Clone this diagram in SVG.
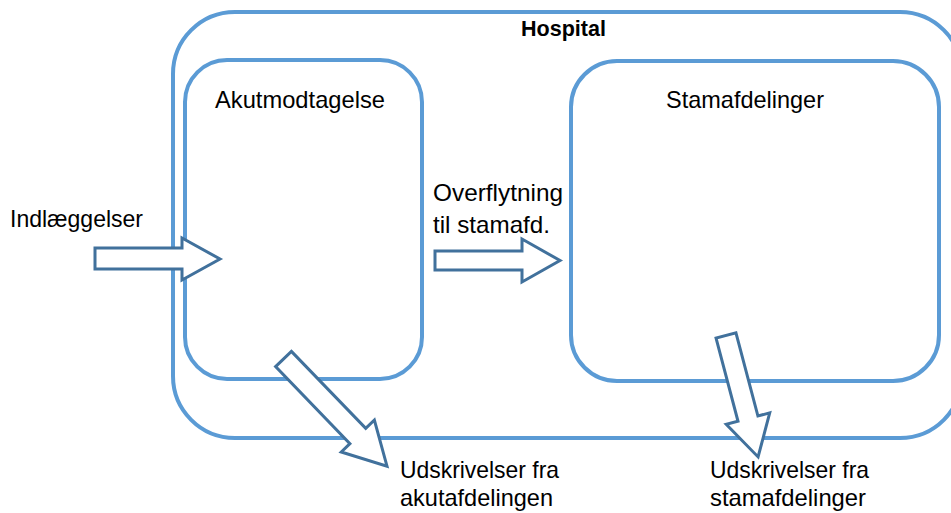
<svg xmlns="http://www.w3.org/2000/svg" width="951" height="513" viewBox="0 0 951 513">
  <style>
    .box { fill: none; stroke: #5B9BD5; stroke-width: 4; }
    .arrow { fill: #FFFFFF; stroke: #41719C; stroke-width: 3; stroke-linejoin: miter; }
    .lbl { font-family: "Liberation Sans", Arial, sans-serif; font-size: 24px; fill: #000000; }
    .title { font-family: "Liberation Sans", Arial, sans-serif; font-size: 22px; font-weight: bold; fill: #000000; }
  </style>
  <rect width="951" height="513" fill="#FFFFFF"/>

  <!-- Hospital container -->
  <g id="hospital">
    <rect class="box" x="173" y="12" width="789" height="426" rx="62" ry="62"/>
    <text class="title" x="521" y="36" textLength="85" lengthAdjust="spacingAndGlyphs">Hospital</text>
  </g>

  <!-- Emergency reception -->
  <g id="akutmodtagelse">
    <rect class="box" x="185" y="60" width="237" height="319" rx="42" ry="42"/>
    <text class="lbl" x="215" y="108" textLength="170" lengthAdjust="spacingAndGlyphs">Akutmodtagelse</text>
  </g>

  <!-- Regular wards -->
  <g id="stamafdelinger">
    <rect class="box" x="571" y="61" width="368" height="320" rx="46" ry="46"/>
    <text class="lbl" x="666" y="108" textLength="158" lengthAdjust="spacingAndGlyphs">Stamafdelinger</text>
  </g>

  <!-- Flow labels -->
  <g id="labels">
    <text class="lbl" x="10" y="227" textLength="133" lengthAdjust="spacingAndGlyphs">Indlæggelser</text>
    <text class="lbl" x="433" y="201" textLength="130" lengthAdjust="spacingAndGlyphs">Overflytning</text>
    <text class="lbl" x="433" y="233" textLength="117" lengthAdjust="spacingAndGlyphs">til stamafd.</text>
    <text class="lbl" x="400" y="478" textLength="159" lengthAdjust="spacingAndGlyphs">Udskrivelser fra</text>
    <text class="lbl" x="400" y="506" textLength="153" lengthAdjust="spacingAndGlyphs">akutafdelingen</text>
    <text class="lbl" x="710" y="478" textLength="159" lengthAdjust="spacingAndGlyphs">Udskrivelser fra</text>
    <text class="lbl" x="710" y="506" textLength="156" lengthAdjust="spacingAndGlyphs">stamafdelinger</text>
  </g>

  <!-- Block arrows for patient flow -->
  <g id="connectors">
    <polygon class="arrow" points="95,248 182,248 182,238 220,259 182,280 182,269 95,269"/>
    <polygon class="arrow" points="435,251 522,251 522,239 560,260.5 522,282 522,270 435,270"/>
    <polygon class="arrow" transform="translate(283.5,359) rotate(46)" points="0,-11 107,-11 107,-23 149,0 107,23 107,11 0,11"/>
    <polygon class="arrow" transform="translate(726,335.5) rotate(75.2)" points="0,-10.3 86,-10.3 86,-22.5 125.6,0 86,22.5 86,10.3 0,10.3"/>
  </g>
</svg>
